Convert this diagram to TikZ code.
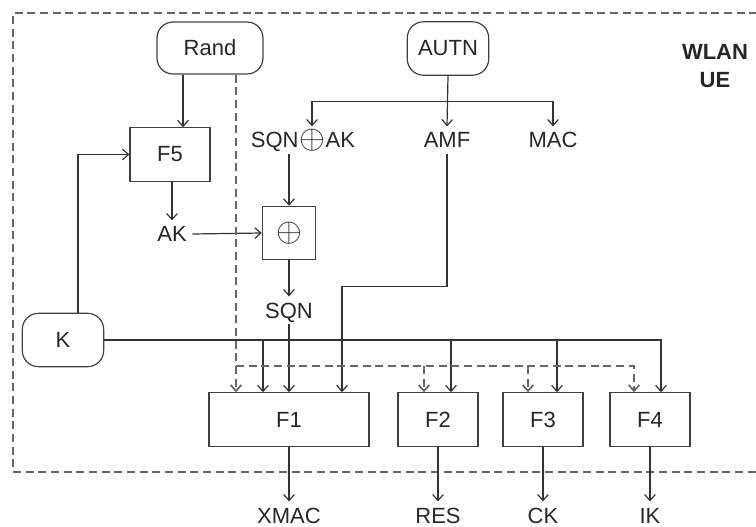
\documentclass[tikz,border=0pt]{standalone}
\usepackage{fontspec}
\setmainfont{Liberation Sans}
\usetikzlibrary{arrows.meta,calc}
\newcommand{\xorsym}[1]{{\fontsize{#1}{#1}\selectfont$\oplus$}}

\begin{document}
\begin{tikzpicture}[x=0.75pt,y=-0.75pt,>={Straight Barb[length=4.5pt,width=8pt]},
  every node/.style={font=\fontsize{16.5}{20}\selectfont,text=black!85},
  key/.style={draw=black!75,line width=0.9pt,rounded corners=12pt,minimum width=61pt,minimum height=40pt},
  fbox/.style={draw=black!75,line width=0.9pt,minimum width=60pt,minimum height=40pt},
  lbl/.style={inner sep=4pt,text height=12pt,text depth=0pt},
  link/.style={draw=black!80,line width=0.9pt},
  randlink/.style={draw=black!60,line width=1.3pt,dash pattern=on 6pt off 3.5pt}]
  \useasboundingbox (0,0) rectangle (756,527);
  \draw[randlink] (770,13) -| (13,472) -- (770,472);

  % inputs
  \node[key,minimum width=79.5pt,minimum height=39pt] (rand) at (210,48) {Rand};
  \node[key] (autn) at (448,48.5) {AUTN};
  \node[key] (k) at (63,340) {K};
  \node[font=\fontsize{16.5}{21}\selectfont\bfseries,align=center] (ue) at (715,66) {WLAN\\UE};

  \node[fbox] (f5) at (170,154.5) {F5};
  \node[fbox,minimum width=40pt,inner sep=0pt] (xor) at (289,233) {\xorsym{26}};
  \node[lbl] (ak) at (172,234) {AK};
  \node[lbl] (sqnak) at (303,140) {SQN\kern0.5pt\raisebox{-0.5pt}{\xorsym{25}}\kern0.5ptAK};
  \node[lbl] (amf) at (447,140) {AMF};
  \node[lbl] (mac) at (553,140) {MAC};
  \node[lbl] (sqn) at (289,310) {SQN};

  % functions and outputs
  \node[fbox,minimum width=120pt] (f1) at (289,419.5) {F1};
  \node[fbox] (f2) at (438,419.5) {F2};
  \node[fbox] (f3) at (543,419.5) {F3};
  \node[fbox] (f4) at (650,419.5) {F4};
  \node[lbl] (xmac) at (289,515) {XMAC};
  \node[lbl] (res) at (438,515) {RES};
  \node[lbl] (ck) at (543,515) {CK};
  \node[lbl] (ik) at (650,515) {IK};

  \draw[link,->] ($(rand.south)+(-27,0)$) -- ($(f5.north)+(13,0)$);
  \draw[link,->] ($(k.north)+(15,0)$) |- (f5.west);
  \draw[link,->] (f5.south -| ak.north) -- (ak.north);
  \draw[link,->] (ak.east) -- (xor.west);
  \draw[link,->] (sqnak.south -| xor.north) -- (xor.north);
  \draw[link,->] (xor.south) -- (sqn.north);
  \draw[link,->] (sqn.south) -- (f1.north);

  \coordinate (split) at ($(autn.south)+(0,26)$);
  \draw[link,->] (autn.south) -- (amf.north);
  \draw[link,->] (split) -| ($(sqnak.north)+(9,0)$);
  \draw[link,->] (split) -| (mac.north);
  \draw[link,->] (amf.south) |- ($(f1.north)+(53,-106)$) -- ($(f1.north)+(53,0)$);

  % K to all functions
  \draw[link,->] (k.east) -| ($(f4.north)+(11,0)$);
  \foreach \n/\dx in {f1/-26,f2/13,f3/14} {
    \coordinate (\n k) at ($(\n.north)+(\dx,0)$);
    \draw[link,->] (k.east -| \n k) -- (\n k);
  }

  % Rand to all functions
  \coordinate (rbus) at ($(f1.north)+(-53,-26)$);
  \draw[randlink,->] ($(rand.south)+(26,0)$) -- ($(f1.north)+(-53,0)$);
  \draw[randlink,->] (rbus) -| ($(f4.north)+(-16,0)$);
  \foreach \n/\dx in {f2/-14,f3/-15} {
    \coordinate (\n r) at ($(\n.north)+(\dx,0)$);
    \draw[randlink,->] (rbus -| \n r) -- (\n r);
  }

  \foreach \n/\o in {f1/xmac,f2/res,f3/ck,f4/ik}
    \draw[link,->] (\n.south) -- (\o.north);
\end{tikzpicture}
\end{document}
